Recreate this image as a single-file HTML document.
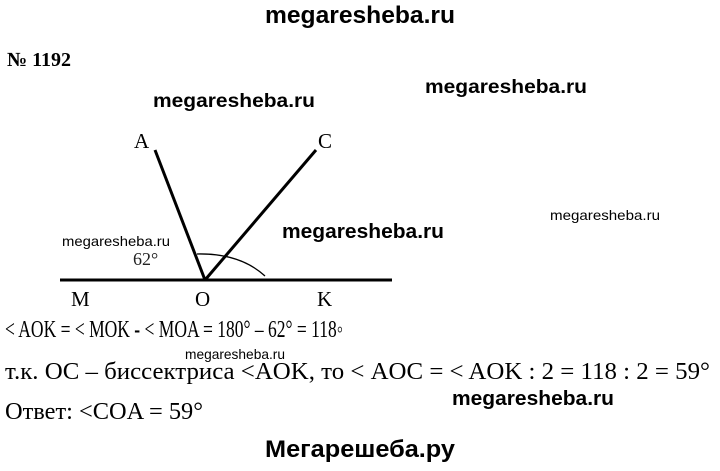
<!DOCTYPE html>
<html><head><meta charset="utf-8"><style>
html,body{margin:0;padding:0;background:#fff;}
svg{display:block}
.s{font-family:"Liberation Serif",serif;}
.b{font-family:"Liberation Sans",sans-serif;font-weight:bold;}
.n{font-family:"Liberation Sans",sans-serif;}
</style></head><body>
<svg width="720" height="471" viewBox="0 0 720 471" xmlns="http://www.w3.org/2000/svg">
<text class="b" x="360" y="23" font-size="24" text-anchor="middle" textLength="190" lengthAdjust="spacingAndGlyphs">megaresheba.ru</text>
<text class="s" x="7" y="66" font-size="20" font-weight="bold">№ 1192</text>
<text class="b" x="153" y="107" font-size="19" textLength="162" lengthAdjust="spacingAndGlyphs">megaresheba.ru</text>
<text class="b" x="425" y="93" font-size="19" textLength="162" lengthAdjust="spacingAndGlyphs">megaresheba.ru</text>
<text class="n" x="550" y="220" font-size="14" textLength="110" lengthAdjust="spacingAndGlyphs">megaresheba.ru</text>
<text class="b" x="282" y="238" font-size="20" textLength="162" lengthAdjust="spacingAndGlyphs">megaresheba.ru</text>
<text class="n" x="62" y="246" font-size="14" textLength="108" lengthAdjust="spacingAndGlyphs">megaresheba.ru</text>
<g stroke="#000" stroke-width="3" fill="none">
<line x1="60" y1="280" x2="392" y2="280"/>
<line x1="155" y1="150" x2="205" y2="280"/>
<line x1="316" y1="150" x2="205" y2="280"/>
</g>
<path d="M197,254 Q240,253 265,276" stroke="#000" stroke-width="1.3" fill="none"/>
<g class="s" font-size="21">
<text x="134" y="148">A</text>
<text x="318" y="148">C</text>
<text x="71" y="306">M</text>
<text x="195" y="306">O</text>
<text x="317" y="306">K</text>
<text x="133" y="265" font-size="18" fill="#222">62°</text>
</g>
<text class="s" x="5" y="337" font-size="24" textLength="338" lengthAdjust="spacingAndGlyphs">&lt; AOK = &lt; MOK <tspan font-weight="bold">-</tspan> &lt; MOA = 180° – 62° = 118◦</text>
<text class="n" x="185" y="359" font-size="14" textLength="100" lengthAdjust="spacingAndGlyphs">megaresheba.ru</text>
<text class="s" x="5" y="379" font-size="24" textLength="705" lengthAdjust="spacingAndGlyphs">т.к. OC – биссектриса &lt;AOK, то &lt; AOC = &lt; AOK : 2 = 118 : 2 = 59°</text>
<text class="b" x="452" y="405" font-size="20" textLength="162" lengthAdjust="spacingAndGlyphs">megaresheba.ru</text>
<text class="s" x="5" y="419" font-size="24" textLength="198" lengthAdjust="spacingAndGlyphs">Ответ: &lt;COA = 59°</text>
<text class="b" x="360" y="457" font-size="24" text-anchor="middle" textLength="190" lengthAdjust="spacingAndGlyphs">Мегарешеба.ру</text>
</svg>
</body></html>
